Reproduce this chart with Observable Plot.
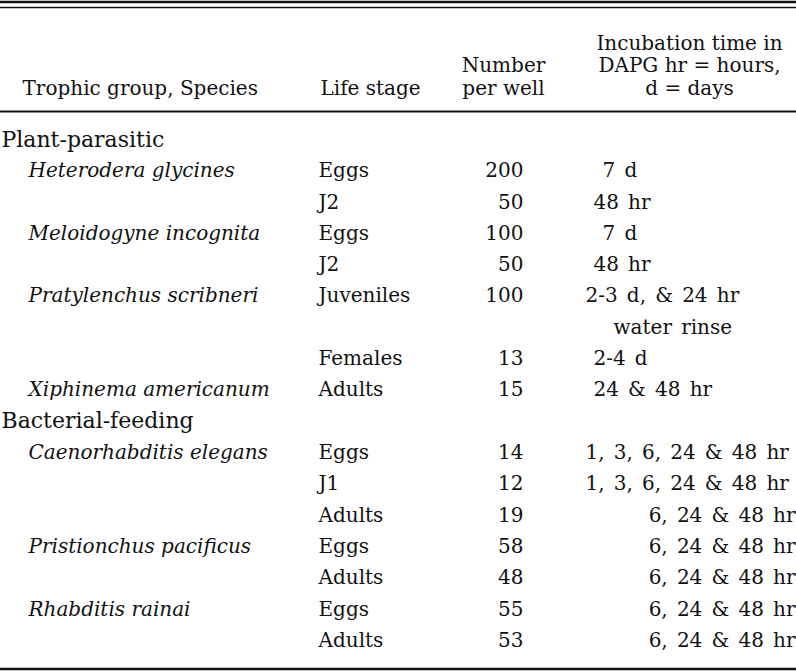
<!DOCTYPE html>
<html>
<head>
<meta charset="utf-8">
<script src="https://cdn.jsdelivr.net/npm/d3@7"></script>
<script src="https://cdn.jsdelivr.net/npm/@observablehq/plot@0.6"></script>
<style>
  html, body { margin: 0; padding: 0; background: #fff; }
  #chart svg { display: block; }
</style>
</head>
<body>
<div id="chart"></div>
<script>
// ---------------- DATA (one entry per table line) ----------------
const trophicGroup = ["Plant-parasitic", null, null, null, null, null, null, null, null,
  "Bacterial-feeding", null, null, null, null, null, null, null];
const species = [null, "Heterodera glycines", null, "Meloidogyne incognita", null,
  "Pratylenchus scribneri", null, null, "Xiphinema americanum", null,
  "Caenorhabditis elegans", null, null, "Pristionchus pacificus", null, "Rhabditis rainai", null];
const lifeStage = [null, "Eggs", "J2", "Eggs", "J2", "Juveniles", null, "Females", "Adults", null,
  "Eggs", "J1", "Adults", "Eggs", "Adults", "Eggs", "Adults"];
const numberPerWell = [null, 200, 50, 100, 50, 100, null, 13, 15, null, 14, 12, 19, 58, 48, 55, 53];
const incubationTime = [null, "7 d", "48 hr", "7 d", "48 hr", "2-3 d, & 24 hr", "water rinse", "2-4 d",
  "24 & 48 hr", null, "1, 3, 6, 24 & 48 hr", "1, 3, 6, 24 & 48 hr", "6, 24 & 48 hr",
  "6, 24 & 48 hr", "6, 24 & 48 hr", "6, 24 & 48 hr", "6, 24 & 48 hr"];

const headerSpecies = ["Trophic group, Species"];
const headerStage = ["Life stage"];
const headerNumber = ["Number", "per well"];
const headerTime = ["Incubation time in", "DAPG hr = hours,", "d = days"];

// ---------------- LAYOUT / STYLE ----------------
const W = 796, H = 671;
const FONT = "DejaVu Serif";
const FS = 20, FS_GROUP = 22;
const INK = "#111";
const WORD_SPACING = "2.8px";
const rowPx = {first: 139, last: 640};            // pixel centre of first/last body line
const headerLinePx = [43, 65.5, 88];              // header line centres (bottom-aligned block)
const rulePx = {topThick: 1.5, topThin: 7, head: 111, bottom: 668.5};
const colX = {group: 1, species: 28, stage: 318, number: 523, numberHead: 503, timeHead: 689,
  speciesHead: 22, stageHead: 320};
// incubation column: the scanned table uses uneven indents
const timeAlign = [null, "in2", "in1", "in2", "in1", "left", "rinse", "in1", "in1", null,
  "left", "left", "right", "right", "right", "right", "right"];
const timeX = {left: 585, in1: 593, in2: 602, rinse: 613, right: 795};

const lastRow = trophicGroup.length - 1;
const yRow = d3.scaleLinear().domain([0, lastRow]).range([rowPx.first, rowPx.last]);
const toRow = px => yRow.invert(px);

// ---------------- BUILD TABLE ROWS ----------------
const rows = d3.range(trophicGroup.length).map(i => ({
  i, group: trophicGroup[i], species: species[i], stage: lifeStage[i],
  n: numberPerWell[i], time: incubationTime[i], align: timeAlign[i]
}));

const headerRows = (lines) => lines.map((t, k) => ({
  t, r: toRow(headerLinePx[headerLinePx.length - lines.length + k])
}));

const common = {fontSize: FS, fontFamily: FONT, fill: INK};

const chart = Plot.plot({
  width: W, height: H,
  margin: 0,
  style: {fontFamily: FONT, fontSize: FS + "px", background: "#fff", color: INK},
  x: {type: "linear", domain: [0, W], range: [0, W], axis: null},
  y: {type: "linear", domain: [0, lastRow], range: [rowPx.first, rowPx.last], axis: null},
  marks: [
    // rules
    Plot.ruleY([toRow(rulePx.topThick)], {y: d => d, x1: 0, x2: W, stroke: INK, strokeWidth: 2.5}),
    Plot.ruleY([toRow(rulePx.topThin)], {y: d => d, x1: 0, x2: W, stroke: INK, strokeWidth: 1.3}),
    Plot.ruleY([toRow(rulePx.head)], {y: d => d, x1: 0, x2: W, stroke: INK, strokeWidth: 2.2}),
    Plot.ruleY([toRow(rulePx.bottom)], {y: d => d, x1: 0, x2: W, stroke: INK, strokeWidth: 2.6}),
    // headers
    Plot.text(headerRows(headerSpecies), {x: () => colX.speciesHead, y: "r", text: "t", textAnchor: "start", ...common}),
    Plot.text(headerRows(headerStage), {x: () => colX.stageHead, y: "r", text: "t", textAnchor: "start", ...common}),
    Plot.text(headerRows(headerNumber), {x: () => colX.numberHead, y: "r", text: "t", textAnchor: "middle", ...common}),
    Plot.text(headerRows(headerTime), {x: () => colX.timeHead, y: "r", text: "t", textAnchor: "middle", ...common}),
    // body
    Plot.text(rows.filter(d => d.group), {x: () => colX.group, y: "i", text: "group", textAnchor: "start", ...common, fontSize: FS_GROUP}),
    Plot.text(rows.filter(d => d.species), {x: () => colX.species, y: "i", text: "species", textAnchor: "start", fontStyle: "italic", ...common}),
    Plot.text(rows.filter(d => d.stage), {x: () => colX.stage, y: "i", text: "stage", textAnchor: "start", ...common}),
    Plot.text(rows.filter(d => d.n != null), {x: () => colX.number, y: "i", text: d => String(d.n), textAnchor: "end", ...common}),
    Plot.text(rows.filter(d => d.time && d.align !== "right"), {x: d => timeX[d.align], y: "i", text: "time", textAnchor: "start", ariaLabel: () => "incubation time", ...common}),
    Plot.text(rows.filter(d => d.time && d.align === "right"), {x: d => timeX[d.align], y: "i", text: "time", textAnchor: "end", ariaLabel: () => "incubation time", ...common})
  ]
});
document.getElementById("chart").appendChild(chart);
// slightly looser inter-word spacing in the incubation column, as in the typeset table
d3.select(chart).selectAll('[aria-label="incubation time"]').style("word-spacing", WORD_SPACING);
</script>
</body>
</html>
